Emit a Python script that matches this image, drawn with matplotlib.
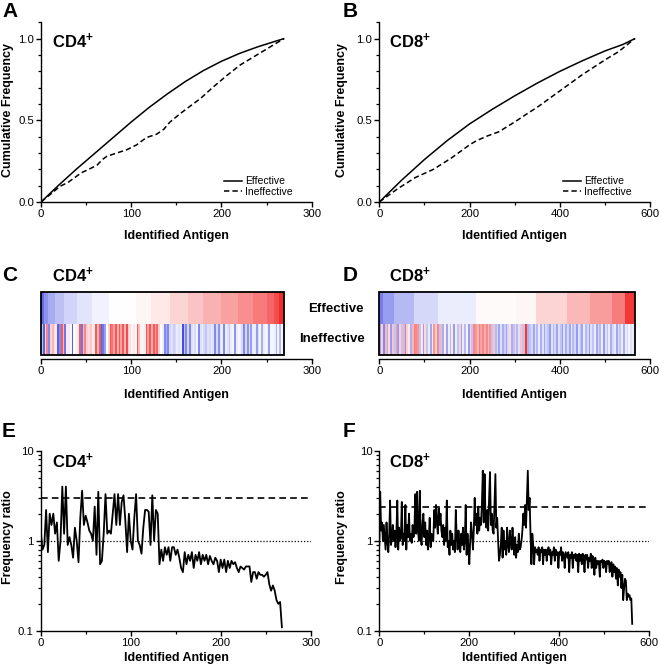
import numpy as np
import matplotlib
matplotlib.use('Agg')
import matplotlib.pyplot as plt
from matplotlib.ticker import (MultipleLocator, FixedLocator, NullFormatter, LogLocator,
                               FormatStrFormatter, FixedFormatter)
from matplotlib.patches import Rectangle
from matplotlib.colors import LinearSegmentedColormap

plt.rcParams['font.family'] = ['Liberation Sans', 'DejaVu Sans']
plt.rcParams['mathtext.fontset'] = 'custom'
plt.rcParams['mathtext.rm'] = 'Liberation Sans'
plt.rcParams['mathtext.bf'] = 'Liberation Sans:bold'

# ---------------- data ----------------
# Panel A / B: cumulative frequency curves
cd4_eff_x = [0, 20, 40, 60, 80, 100, 120, 140, 160, 180, 200, 220, 240, 260, 269]
cd4_eff_y = [0, 0.105, 0.205, 0.30, 0.395, 0.49, 0.58, 0.662, 0.738, 0.805, 0.862, 0.91, 0.95, 0.985, 1.0]
cd4_ineff_x = [0, 10, 21, 30, 40, 45, 51, 62, 68, 73, 84, 95, 106, 112, 117, 128, 136, 143,
               154, 166, 177, 191, 206, 221, 236, 251, 269]
cd4_ineff_y = [0, 0.045, 0.096, 0.12, 0.16, 0.18, 0.195, 0.225, 0.26, 0.28, 0.30, 0.32, 0.35,
               0.375, 0.395, 0.415, 0.445, 0.49, 0.54, 0.59, 0.635, 0.705, 0.775, 0.84, 0.89, 0.94, 1.0]

cd8_eff_x = [0, 50, 100, 150, 200, 250, 300, 350, 400, 450, 500, 540, 566]
cd8_eff_y = [0, 0.135, 0.26, 0.375, 0.478, 0.567, 0.65, 0.728, 0.80, 0.865, 0.925, 0.965, 1.0]
cd8_ineff_x = [0, 40, 80, 120, 160, 200, 215, 240, 265, 300, 330, 350, 400, 450, 500, 530, 566]
cd8_ineff_y = [0, 0.08, 0.15, 0.20, 0.27, 0.35, 0.375, 0.405, 0.43, 0.49, 0.545, 0.58, 0.68,
               0.78, 0.87, 0.92, 1.0]

# Panel C / D: heatmap, effective row blocks (edges, level)
cd4_eff_edges = [0, 3, 8, 15, 25, 40, 56, 75, 105, 122, 143, 163, 180, 200, 218, 235, 250, 258, 264, 269]
cd4_eff_levels = [-0.75, -0.55, -0.42, -0.32, -0.22, -0.14, -0.07, 0.0, 0.04, 0.1, 0.18, 0.25,
                  0.33, 0.4, 0.48, 0.56, 0.65, 0.75, 0.9]
cd8_eff_edges = [0, 7.5, 33, 78, 130, 215, 304, 348, 415, 467, 515, 544, 567]
cd8_eff_levels = [-0.65, -0.5, -0.35, -0.2, -0.1, 0.02, 0.04, 0.18, 0.3, 0.42, 0.55, 0.85]

# ineffective row: one level per bin of antigens (CD4: 2 per bin, CD8: 4 per bin)
cd4_ineff_levels = [
    -0.3, -0.8, 0.2, 0.5, -0.6, 0.2, 0.3, 0.15, 0.1, -0.8,
    -0.6, 0.7, 0.3, -0.7, 0.1, -0.1, 0.05, -0.8, 0.0, -0.05,
    0.1, 0.7, -0.7, 0.3, 0.5, 0.2, 0.15, 0.25, 0.05, 0.1,
    0.7, 0.3, 0.7, -0.8, -0.7, -0.5, 0.0, 0.2, 0.7, 0.6,
    0.4, 0.7, 0.35, 0.7, 0.4, 0.7, 0.3, 0.75, 0.2, 0.15,
    0.05, 0.1, 0.0, 0.7, 0.3, 0.05, -0.05, 0.1, 0.7, 0.4,
    0.7, 0.35, 0.7, 0.4, 0.65, 0.2, 0.0, -0.1, -0.6, -0.4,
    -0.6, -0.2, -0.15, -0.25, -0.2, -0.1, -0.15, -0.1, -0.9, -0.3,
    -0.6, -0.2, -0.6, -0.15, -0.1, -0.2, -0.05, -0.6, -0.15, -0.1,
    -0.2, -0.3, -0.15, -0.2, -0.1, -0.15, -0.6, -0.2, -0.55, -0.15,
    -0.1, -0.6, -0.1, -0.15, -0.3, -0.1, -0.05, -0.55, -0.1, -0.05,
    -0.1, -0.2, -0.6, -0.2, -0.55, -0.15, -0.5, -0.1, -0.1, -0.5,
    -0.15, -0.05, -0.4, -0.1, -0.05, -0.1, -0.5, -0.05, -0.05, -0.1,
    -0.4, -0.05, -0.35, -0.05, -0.1]
cd8_ineff_levels = [
    -0.5, 0.2, -0.6, 0.3, -0.4, 0.15, -0.5, 0.25, -0.3, 0.4,
    -0.5, 0.2, -0.3, 0.35, -0.55, 0.2, 0.1, -0.4, 0.3, 0.55,
    0.5, 0.45, -0.3, 0.1, -0.5, 0.15, -0.3, -0.1, -0.45, 0.1,
    0.45, 0.2, 0.5, -0.3, 0.3, -0.4, 0.1, -0.45, -0.1, -0.35,
    0.1, -0.5, -0.1, -0.3, 0.2, -0.45, -0.1, -0.35, 0.05, -0.5,
    0.2, -0.3, 0.5, 0.45, 0.3, 0.55, 0.4, 0.5, 0.35, 0.5,
    0.3, 0.45, -0.3, 0.25, -0.35, -0.2, -0.45, -0.15, -0.4, -0.25,
    -0.45, -0.2, 0.15, -0.4, -0.3, 0.2, -0.35, -0.15, 0.25, -0.3,
    0.3, 0.85, -0.4, -0.3, -0.2, -0.45, -0.15, -0.35, -0.1, -0.4,
    -0.15, -0.45, -0.2, -0.3, -0.5, -0.15, -0.35, -0.2, -0.45, -0.15,
    -0.3, -0.5, -0.15, -0.4, -0.2, -0.45, -0.1, -0.35, -0.2, -0.5,
    -0.15, -0.3, -0.45, -0.1, -0.35, -0.2, -0.5, -0.15, -0.3, -0.1,
    -0.45, -0.2, -0.35, -0.1, -0.5, -0.15, -0.3, -0.1, -0.4, -0.2,
    -0.1, -0.45, -0.15, -0.3, -0.1, -0.4, -0.1, -0.2, -0.05, -0.15,
    -0.1, -0.2]

# Panel E / F: frequency ratio (sampled every 2 antigens)
cd4_ratio = [
    1.3, 0.8, 0.9, 2.2, 0.75, 2.0, 1.5, 2.0, 1.2, 1.6,
    0.6, 1.0, 4.0, 1.2, 4.0, 0.9, 1.1, 0.9, 0.65, 1.4,
    1.0, 0.58, 1.8, 3.6, 1.5, 1.9, 1.6, 1.3, 1.2, 1.0,
    2.4, 0.7, 3.5, 0.55, 0.6, 1.2, 3.3, 1.2, 1.3, 1.2,
    2.0, 3.3, 1.5, 3.3, 1.5, 2.7, 3.2, 1.7, 0.75, 2.0,
    1.0, 0.8, 1.8, 3.3, 1.0, 0.9, 0.72, 1.4, 2.2, 2.2,
    2.1, 0.9, 3.2, 1.0, 2.2, 2.0, 0.55, 0.8, 0.6, 0.85,
    0.7, 0.85, 0.6, 0.85, 0.85, 0.7, 0.8, 0.65, 0.5, 0.45,
    0.75, 0.55, 0.7, 0.6, 0.75, 0.5, 0.7, 0.6, 0.75, 0.55,
    0.7, 0.6, 0.7, 0.55, 0.68, 0.6, 0.55, 0.65, 0.6, 0.45,
    0.62, 0.5, 0.62, 0.45, 0.6, 0.5, 0.6, 0.55, 0.58, 0.5,
    0.45, 0.52, 0.5, 0.48, 0.52, 0.52, 0.52, 0.35, 0.45, 0.45,
    0.38, 0.45, 0.42, 0.42, 0.4, 0.42, 0.45, 0.33, 0.28, 0.32,
    0.28, 0.22, 0.2, 0.21, 0.11]
cd8_ratio = [
    0.9, 3.5, 1.3, 1.6, 1.0, 1.5, 1.1, 0.8, 1.6, 1.0,
    0.75, 1.2, 2.8, 0.9, 1.1, 1.5, 1.0, 1.3, 0.85, 1.2,
    2.8, 0.8, 1.4, 1.0, 1.1, 2.7, 0.9, 1.2, 1.0, 2.5,
    0.8, 1.5, 1.1, 2.0, 1.0, 1.2, 0.95, 1.5, 1.1, 1.3,
    3.3, 1.2, 3.5, 1.3, 1.0, 3.6, 1.1, 0.9, 1.6, 2.0,
    1.1, 1.6, 0.9, 1.3, 0.8, 1.1, 1.8, 0.85, 1.2, 1.0,
    1.0, 2.2, 1.4, 2.5, 1.6, 1.2, 2.3, 1.5, 2.0, 1.3,
    1.1, 1.5, 0.9, 1.4, 1.0, 2.8, 0.85, 1.0, 0.7, 1.3,
    0.9, 1.2, 0.8, 1.0, 0.75, 2.2, 1.1, 0.8, 1.3, 0.9,
    0.75, 1.2, 0.9, 1.4, 0.8, 1.0, 2.5, 0.7, 1.2, 0.85,
    0.55, 1.0, 1.6, 1.2, 0.8, 1.3, 3.0, 1.5, 2.0, 1.2,
    2.4, 1.3, 1.8, 1.5, 2.6, 6.0, 1.6, 5.5, 1.8, 1.4,
    2.2, 1.3, 3.0, 5.8, 1.5, 2.0, 1.3, 1.2, 2.5, 5.5,
    1.4, 1.8, 1.0, 0.6, 0.7, 0.9, 1.4, 0.65, 1.3, 0.8,
    1.0, 0.7, 1.4, 0.9, 0.75, 1.3, 1.0, 0.8, 1.4, 0.9,
    0.7, 1.1, 0.65, 0.9, 0.75, 1.2, 0.8, 0.85, 1.0, 1.3,
    2.0, 1.5, 2.5, 1.4, 3.0, 6.0, 2.2, 3.0, 1.2, 0.55,
    1.2, 0.9, 0.55, 0.85, 0.75, 0.8, 0.7, 0.85, 0.6, 0.8,
    0.75, 0.85, 0.55, 0.8, 0.7, 0.8, 0.6, 0.75, 0.85, 0.7,
    0.8, 0.55, 0.75, 0.7, 0.85, 0.6, 0.8, 0.7, 0.75, 0.5,
    0.75, 0.7, 0.85, 0.6, 0.75, 0.7, 0.5, 0.75, 0.7, 0.65,
    0.75, 0.45, 0.7, 0.65, 0.75, 0.5, 0.7, 0.65, 0.72, 0.6,
    0.7, 0.45, 0.72, 0.6, 0.7, 0.55, 0.72, 0.65, 0.45, 0.7,
    0.62, 0.7, 0.5, 0.65, 0.6, 0.72, 0.5, 0.68, 0.6, 0.42,
    0.65, 0.5, 0.6, 0.55, 0.6, 0.4, 0.6, 0.58, 0.62, 0.5,
    0.6, 0.58, 0.45, 0.6, 0.55, 0.6, 0.45, 0.55, 0.58, 0.4,
    0.55, 0.45, 0.52, 0.38, 0.5, 0.32, 0.48, 0.4, 0.45, 0.3,
    0.42, 0.22, 0.3, 0.38, 0.36, 0.22, 0.26, 0.24, 0.25, 0.22,
    0.23, 0.12]
cd4_threshold = 3.0
cd8_threshold = 2.4

# ---------------- layout helpers ----------------
W, H = 660, 672
fig = plt.figure(figsize=(6.6, 6.72), dpi=100)


def box(l, t, r, b):
    return [l / W, 1 - b / H, (r - l) / W, (b - t) / H]


def ftext(x, y, s, **kw):
    fig.text(x / W, 1 - y / H, s, **kw)


TICK_FS = 8.2
LAB_FS = 9
cmap = LinearSegmentedColormap.from_list('bwr2', ['#2f3ae0', '#ffffff', '#f01414'])


def style_axes(ax, xmax, xmajor, hide_left=False):
    for s in ['top', 'right']:
        ax.spines[s].set_visible(False)
    ax.spines['left'].set_linewidth(1.0)
    ax.spines['bottom'].set_linewidth(1.0)
    if hide_left:
        ax.spines['left'].set_visible(False)
        ax.set_yticks([])
    ax.set_xlim(0, xmax)
    ax.xaxis.set_major_locator(MultipleLocator(xmajor))
    ax.xaxis.set_minor_locator(MultipleLocator(xmajor / 2))
    ax.tick_params(which='major', direction='out', length=3.5, width=1.0,
                   labelsize=TICK_FS, pad=1.5)
    ax.tick_params(which='minor', direction='out', length=2.2, width=0.9)


# ---------------- Panels A, B ----------------
for (l, r, xmax, xmaj, ex, ey, ix, iy) in [
        (41, 311.7, 300, 100, cd4_eff_x, cd4_eff_y, cd4_ineff_x, cd4_ineff_y),
        (379.3, 650, 600, 200, cd8_eff_x, cd8_eff_y, cd8_ineff_x, cd8_ineff_y)]:
    ax = fig.add_axes(box(l, 22.4, r, 202))
    style_axes(ax, xmax, xmaj)
    ax.set_ylim(0, 1.1)
    ax.yaxis.set_major_locator(FixedLocator([0, 0.5, 1.0]))
    ax.yaxis.set_minor_locator(MultipleLocator(0.1))
    ax.yaxis.set_major_formatter(FormatStrFormatter('%.1f'))
    ax.plot(ex, ey, color='black', lw=1.1, label='Effective')
    ax.plot(ix, iy, color='black', lw=1.1, ls=(0, (3.5, 2)), label='Ineffective')
    ax.legend(loc='lower right', bbox_to_anchor=(0.95, 0.0), frameon=False, fontsize=7.5,
              handlelength=1.7, handletextpad=0.3, labelspacing=0.05, borderaxespad=0.1)

# ---------------- Panels C, D ----------------
for (l, r, xmax, xmaj, edges, levels, ilev, binw) in [
        (41, 311.7, 300, 100, cd4_eff_edges, cd4_eff_levels, cd4_ineff_levels, 2),
        (379.3, 650, 600, 200, cd8_eff_edges, cd8_eff_levels, cd8_ineff_levels, 4)]:
    ax = fig.add_axes(box(l, 292, r, 359.3))
    style_axes(ax, xmax, xmaj, hide_left=True)
    ax.set_ylim(-0.136, 2)
    n = edges[-1]
    ax.pcolormesh(np.array(edges, dtype=float), [1, 2], np.array([levels]),
                  cmap=cmap, vmin=-1, vmax=1, shading='flat')
    iedges = np.minimum(np.arange(len(ilev) + 1) * binw, n).astype(float)
    ax.pcolormesh(iedges, [0, 1], np.array([ilev]), cmap=cmap, vmin=-1, vmax=1,
                  shading='flat')
    ax.add_patch(Rectangle((0, 0), n, 2, fill=False, ec='black', lw=1.3, zorder=3,
                           clip_on=False))

# ---------------- Panels E, F ----------------
for (l, r, xmax, xmaj, ratio, thr) in [
        (40.7, 310.7, 300, 100, cd4_ratio, cd4_threshold),
        (379.3, 649.3, 600, 200, cd8_ratio, cd8_threshold)]:
    ax = fig.add_axes(box(l, 450.7, r, 631))
    style_axes(ax, xmax, xmaj)
    ax.set_yscale('log')
    ax.set_ylim(0.1, 10)
    ax.yaxis.set_major_locator(FixedLocator([0.1, 1, 10]))
    ax.yaxis.set_major_formatter(FixedFormatter(['0.1', '1', '10']))
    ax.yaxis.set_minor_locator(LogLocator(base=10, subs=np.arange(2, 10)))
    ax.yaxis.set_minor_formatter(NullFormatter())
    ax.tick_params(axis='y', which='minor', length=2.2)
    xs = np.arange(len(ratio)) * 2
    ax.plot(xs, ratio, color='black', lw=1.3)
    ax.axhline(thr, color='black', lw=1.2, ls=(0, (4, 2.5)))
    ax.axhline(1.0, color='black', lw=0.9, ls=(0, (1, 1.5)))

# ---------------- texts ----------------
letter_kw = dict(fontsize=15, fontweight='bold', ha='left', va='baseline')
ftext(2, 17, 'A', **letter_kw)
ftext(343, 17, 'B', **letter_kw)
ftext(2, 281, 'C', **letter_kw)
ftext(343, 281, 'D', **letter_kw)
ftext(2, 437, 'E', **letter_kw)
ftext(343, 437, 'F', **letter_kw)

cd_kw = dict(fontsize=12, ha='left', va='baseline')
ftext(52, 48, r'$\mathbf{CD4^{+}}$', **cd_kw)
ftext(389, 48, r'$\mathbf{CD8^{+}}$', **cd_kw)
ftext(52, 282, r'$\mathbf{CD4^{+}}$', **cd_kw)
ftext(389, 282, r'$\mathbf{CD8^{+}}$', **cd_kw)
ftext(52, 468, r'$\mathbf{CD4^{+}}$', **cd_kw)
ftext(389, 468, r'$\mathbf{CD8^{+}}$', **cd_kw)

lab_kw = dict(fontsize=LAB_FS, fontweight='bold', ha='center', va='center')
for cx in (176.3, 514.7):
    ftext(cx, 236, 'Identified Antigen', **lab_kw)
    ftext(cx, 395, 'Identified Antigen', **lab_kw)
    ftext(cx, 658, 'Identified Antigen', **lab_kw)
ftext(8, 110, 'Cumulative Frequency', rotation=90, **lab_kw)
ftext(342, 110, 'Cumulative Frequency', rotation=90, **lab_kw)
ftext(8, 537, 'Frequency ratio', rotation=90, **lab_kw)
ftext(342, 537, 'Frequency ratio', rotation=90, **lab_kw)

ftext(336, 309, 'Effective', fontsize=9.5, fontweight='bold', ha='center', va='center')
ftext(332.5, 339, 'Ineffective', fontsize=9.5, fontweight='bold', ha='center', va='center')

fig.savefig('out.png', dpi=100)
